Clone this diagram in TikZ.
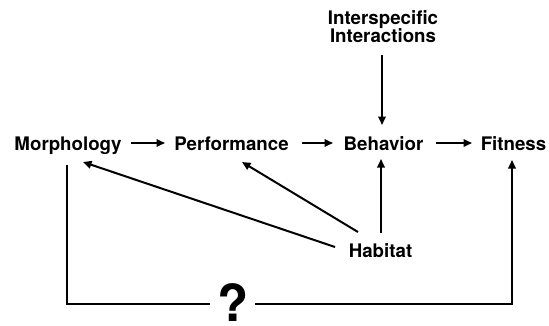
\documentclass[tikz,border=0pt]{standalone}
\usepackage{fontspec}
\setmainfont{TeX Gyre Heros}
\usetikzlibrary{arrows.meta}
\begin{document}
\begin{tikzpicture}[x=1pt,y=1pt,
  lbl/.style={font=\fontsize{18.7}{20}\selectfont\bfseries, inner sep=0pt, anchor=base},
  arr/.style={line width=2pt, -{Triangle[length=8.5pt,width=7.5pt]}},
  ln/.style={line width=2pt}]
\useasboundingbox (0,0) rectangle (549,325);
% nodes
\node[lbl] (morph) at (68,175) {Morphology};
\node[lbl] (perf) at (231.5,175) {Performance};
\node[lbl] (behav) at (383.5,175) {Behavior};
\node[lbl] (fit) at (513.5,175) {Fitness};
\node[lbl] (inter1) at (383,301) {Interspecific};
\node[lbl] (inter2) at (383,283) {Interactions};
\node[lbl] (hab) at (380.5,68) {Habitat};
\node[font=\fontsize{51}{51}\selectfont\bfseries, inner sep=0pt, anchor=base] (q) at (233,3.5) {?};
% connector end points
\coordinate (mpA) at (131,182); \coordinate (mpB) at (165,182);
\coordinate (pbA) at (302,182); \coordinate (pbB) at (333,182);
\coordinate (bfA) at (436,182); \coordinate (bfB) at (472,182);
\coordinate (ibA) at (382,270); \coordinate (ibB) at (382,200);
\coordinate (hmA) at (335,78);  \coordinate (hmB) at (83,163);
\coordinate (hpA) at (358,93);  \coordinate (hpB) at (242,163);
\coordinate (hbA) at (381,92);  \coordinate (hbB) at (381,166);
\coordinate (lTop) at (67,160); \coordinate (lBot) at (67,21);
\coordinate (qL) at (210,21);   \coordinate (qR) at (255,21);
\coordinate (rBot) at (512,21); \coordinate (rTop) at (512,165);
% connectors
\draw[arr] (mpA) -- (mpB);
\draw[arr] (pbA) -- (pbB);
\draw[arr] (bfA) -- (bfB);
\draw[arr] (ibA) -- (ibB);
\draw[arr] (hmA) -- (hmB);
\draw[arr] (hpA) -- (hpB);
\draw[arr] (hbA) -- (hbB);
\draw[ln, line join=miter] (lTop) -- (lBot) -- (qL);
\draw[arr, line join=miter] (qR) -- (rBot) -- (rTop);
\end{tikzpicture}
\end{document}
